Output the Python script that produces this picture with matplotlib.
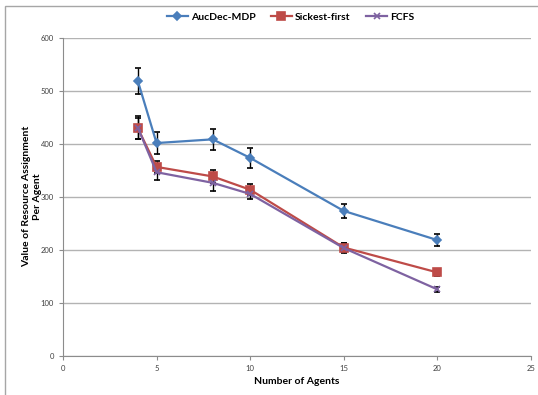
import numpy as np
import matplotlib
matplotlib.use("Agg")
import matplotlib.pyplot as plt
from matplotlib.patches import Rectangle
from matplotlib.lines import Line2D

plt.rcParams['font.family'] = ['Lato', 'DejaVu Sans']

# data
agents = [4, 5, 8, 10, 15, 20]
aucdec = [518, 401, 408, 373, 273, 218]
aucdec_err = [25, 20, 20, 19, 14, 11]
sickest = [429, 356, 338, 313, 204, 157]
sickest_err = [20, 12, 12, 10, 8, 6]
fcfs = [430, 346, 326, 305, 203, 125]
fcfs_err = [22, 15, 15, 10, 9, 5]

fig = plt.figure(figsize=(5.38, 3.95), dpi=100)
ax = fig.add_axes([0.117, 0.0995, 0.87, 0.8055])

# outer chart frame (Excel style)
fig.patches.append(Rectangle((5 / 538, -0.1), 1.2, 1 - 6 / 395 + 0.1,
                             transform=fig.transFigure, fill=False,
                             edgecolor='#a6a6a6', linewidth=1.0))

series = [
    ('AucDec-MDP', aucdec, aucdec_err, '#4a7ebb', 'D', 4),
    ('Sickest-first', sickest, sickest_err, '#be4b48', 's', 6),
    ('FCFS', fcfs, fcfs_err, '#7e62a1', 'x', 5),
]
handles = []
for name, vals, errs, col, mk, ms in series:
    ax.errorbar(agents, vals, yerr=errs, color=col, marker=mk, markersize=ms,
                markeredgewidth=1.2, linewidth=1.6, ecolor='black',
                elinewidth=1.0, capsize=2, capthick=1.0, zorder=3)
    handles.append(Line2D([], [], color=col, marker=mk, markersize=ms,
                          markeredgewidth=1.2, linewidth=1.6, label=name))

ax.set_xlim(0, 25)
ax.set_ylim(0, 600)
ax.set_xticks(np.arange(0, 26, 5))
ax.set_yticks(np.arange(0, 601, 100))
ax.yaxis.grid(True, color='#b3b3b3', linewidth=1.0)
ax.set_axisbelow(True)
for s in ['top', 'right']:
    ax.spines[s].set_visible(False)
for s in ['left', 'bottom']:
    ax.spines[s].set_color('#8c8c8c')
ax.tick_params(axis='both', labelsize=5.5, colors='#404040', length=3,
               color='#8c8c8c')

ax.set_xlabel('Number of Agents', fontsize=7.5, fontweight='bold', labelpad=4)
ax.set_ylabel('Value of Resource Assignment\nPer Agent', fontsize=7.5,
              fontweight='bold', multialignment='center')
ax.yaxis.set_label_coords(-0.045, 0.5)

fig.legend(handles=handles, loc='center', bbox_to_anchor=(0.54, 0.957),
           ncol=3, frameon=False, prop={'weight': 'bold', 'size': 7.5},
           handlelength=2.0, columnspacing=1.5, handletextpad=0.3)

fig.savefig('out.png', dpi=100)
